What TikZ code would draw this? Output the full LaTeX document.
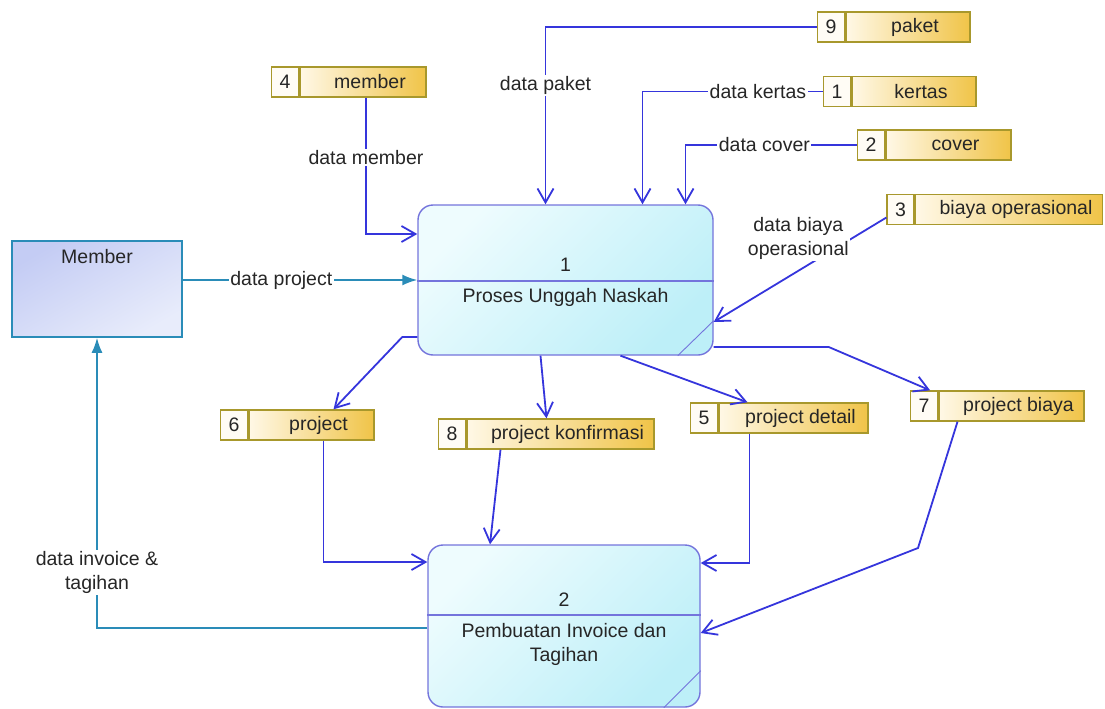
\documentclass[tikz,border=0pt]{standalone}
\usepackage{fontspec}
\setmainfont{Liberation Sans}
\usetikzlibrary{arrows.meta,calc}
\definecolor{flowc}{HTML}{3535DC}
\definecolor{tealc}{HTML}{2A8CB8}
\definecolor{procborder}{HTML}{7474DC}
\definecolor{procA}{HTML}{EEFCFE}
\definecolor{procB}{HTML}{BDEFF8}
\definecolor{memA}{HTML}{C4CCF4}
\definecolor{memB}{HTML}{E8ECFB}
\definecolor{storeborder}{HTML}{A8982C}
\definecolor{storeA}{HTML}{FFF8E6}
\definecolor{storeB}{HTML}{F0C448}
\definecolor{txt}{HTML}{262626}
\begin{document}
\begin{tikzpicture}[x=1pt,y=-1pt,
  every node/.style={font=\fontsize{19.5}{24}\selectfont, text=txt},
  flow/.style={draw=flowc, line width=1.8pt, -{Straight Barb[length=14pt,width=16pt]}},
  tealflow/.style={draw=tealc, line width=1.8pt, -{Latex[length=15pt,width=11pt]}},
  lbl/.style={fill=white, inner sep=1.5pt, text=txt},
  proc/.style={draw=procborder, line width=1.4pt, rounded corners=15pt,
    top color=procA, bottom color=procB, shading angle=45, inner sep=0pt},
  procline/.style={draw=procborder, line width=1.2pt},
  ent/.style={draw=tealc, line width=1.6pt, top color=memA, bottom color=memB,
    shading angle=30, inner sep=0pt, minimum width=170pt, minimum height=96pt},
  storename/.style={draw=storeborder, line width=1.4pt, left color=storeA, right color=storeB,
    minimum height=30pt, inner sep=0pt, execute at begin node={\hspace*{14pt}}},
  storenum/.style={draw=storeborder, line width=1.4pt, fill=storeA!40!white,
    minimum width=27pt, minimum height=30pt, inner sep=0pt, anchor=east}
]
\useasboundingbox (0,0) rectangle (1105,709);

% external entity
\node[ent] (member) at (97,289) {};
\node (membertxt) at ([yshift=-16pt]member.north) {Member};

% processes
\node[proc, minimum width=295pt, minimum height=150pt] (p1) at (565.5,280) {};
\draw[procline] ([yshift=-1pt]p1.west) -- ([yshift=-1pt]p1.east);
\draw[procline, line width=0.9pt] ([xshift=-36pt]p1.south east) -- ([yshift=35pt]p1.south east);
\node (p1num) at ([yshift=15pt]p1.center) {1};
\node (p1name) at ([yshift=-17pt]p1.center) {Proses Unggah Naskah};

\node[proc, minimum width=272pt, minimum height=162pt] (p2) at (564,626) {};
\draw[procline] ([yshift=11pt]p2.west) -- ([yshift=11pt]p2.east);
\draw[procline, line width=0.9pt] ([xshift=-37pt]p2.south east) -- ([yshift=37pt]p2.south east);
\node (p2num) at ([yshift=26pt]p2.center) {2};
\node[align=center] (p2name) at ([yshift=-18.5pt]p2.center) {Pembuatan Invoice dan\\Tagihan};

% data stores
\node[storename, minimum width=124pt] (s9) at (908,27) {paket};
\node[storenum] (n9) at (s9.west) {9};
\node[storename, minimum width=124pt] (s1) at (914,91.5) {kertas};
\node[storenum] (n1) at (s1.west) {1};
\node[storename, minimum width=125pt] (s2) at (948.5,145) {cover};
\node[storenum] (n2) at (s2.west) {2};
\node[storename, minimum width=187pt] (s3) at (1009,209.5) {biaya operasional};
\node[storenum] (n3) at (s3.west) {3};
\node[storename, minimum width=126pt] (s4) at (363,82) {member};
\node[storenum] (n4) at (s4.west) {4};
\node[storename, minimum width=125pt] (s6) at (311.5,425) {project};
\node[storenum] (n6) at (s6.west) {6};
\node[storename, minimum width=187pt] (s8) at (560.5,434) {project konfirmasi};
\node[storenum] (n8) at (s8.west) {8};
\node[storename, minimum width=149pt] (s5) at (793.5,418) {project detail};
\node[storenum] (n5) at (s5.west) {5};
\node[storename, minimum width=145pt] (s7) at (1011.5,406) {project biaya};
\node[storenum] (n7) at (s7.west) {7};

\coordinate (b7) at (918,548);

% flows into process 1
\draw[flow] (n9.west) -| ([xshift=-20pt]p1.north) node[lbl, pos=0.666] {data paket};
\draw[flow] (n1.west) -| ([xshift=77pt]p1.north) node[lbl, pos=0.18] {data kertas};
\draw[flow] (n2.west) -| ([xshift=120pt]p1.north) node[lbl, pos=0.27] {data cover};
\draw[flow] ([yshift=-8pt]n3.west) -- ([yshift=-42pt]p1.east)
  node[lbl, align=center, pos=0.51, yshift=32pt] {data biaya\\operasional};
\draw[flow] ([xshift=3pt]s4.south) |- ([yshift=46pt]p1.west) node[lbl, pos=0.22] {data member};
\draw[tealflow] (p1.west -| member.east) -- (p1.west) node[lbl, pos=0.42] {data project};

% flows out of process 1
\draw[flow] ([yshift=-57pt]p1.west) -- ++(-15pt,0) -- ([xshift=22pt]s6.north);
\draw[flow] ([xshift=-25pt]p1.south) -- ([xshift=-14pt]s8.north);
\draw[flow] ([xshift=55pt]p1.south) -- ([xshift=-46pt]s5.north);
\draw[flow] ([yshift=-67pt]p1.east) -- ++(115pt,0) -- ([xshift=6pt]n7.north);

% flows into process 2
\draw[flow] ([xshift=12pt]s6.south) |- ([yshift=64pt]p2.west);
\draw[flow] ([xshift=-60pt]s8.south) -- ([xshift=-74pt]p2.north);
\draw[flow] ([xshift=-44pt]s5.south) |- ([yshift=63pt]p2.east);
\draw[flow] ([xshift=-54pt]s7.south) -- (b7) -- ([yshift=-7pt]p2.east);

% process 2 to member
\draw[tealflow] ([yshift=-2pt]p2.west) -| (member.south)
  node[lbl, align=center, pos=0.596] {data invoice \&\\tagihan};
\end{tikzpicture}
\end{document}
